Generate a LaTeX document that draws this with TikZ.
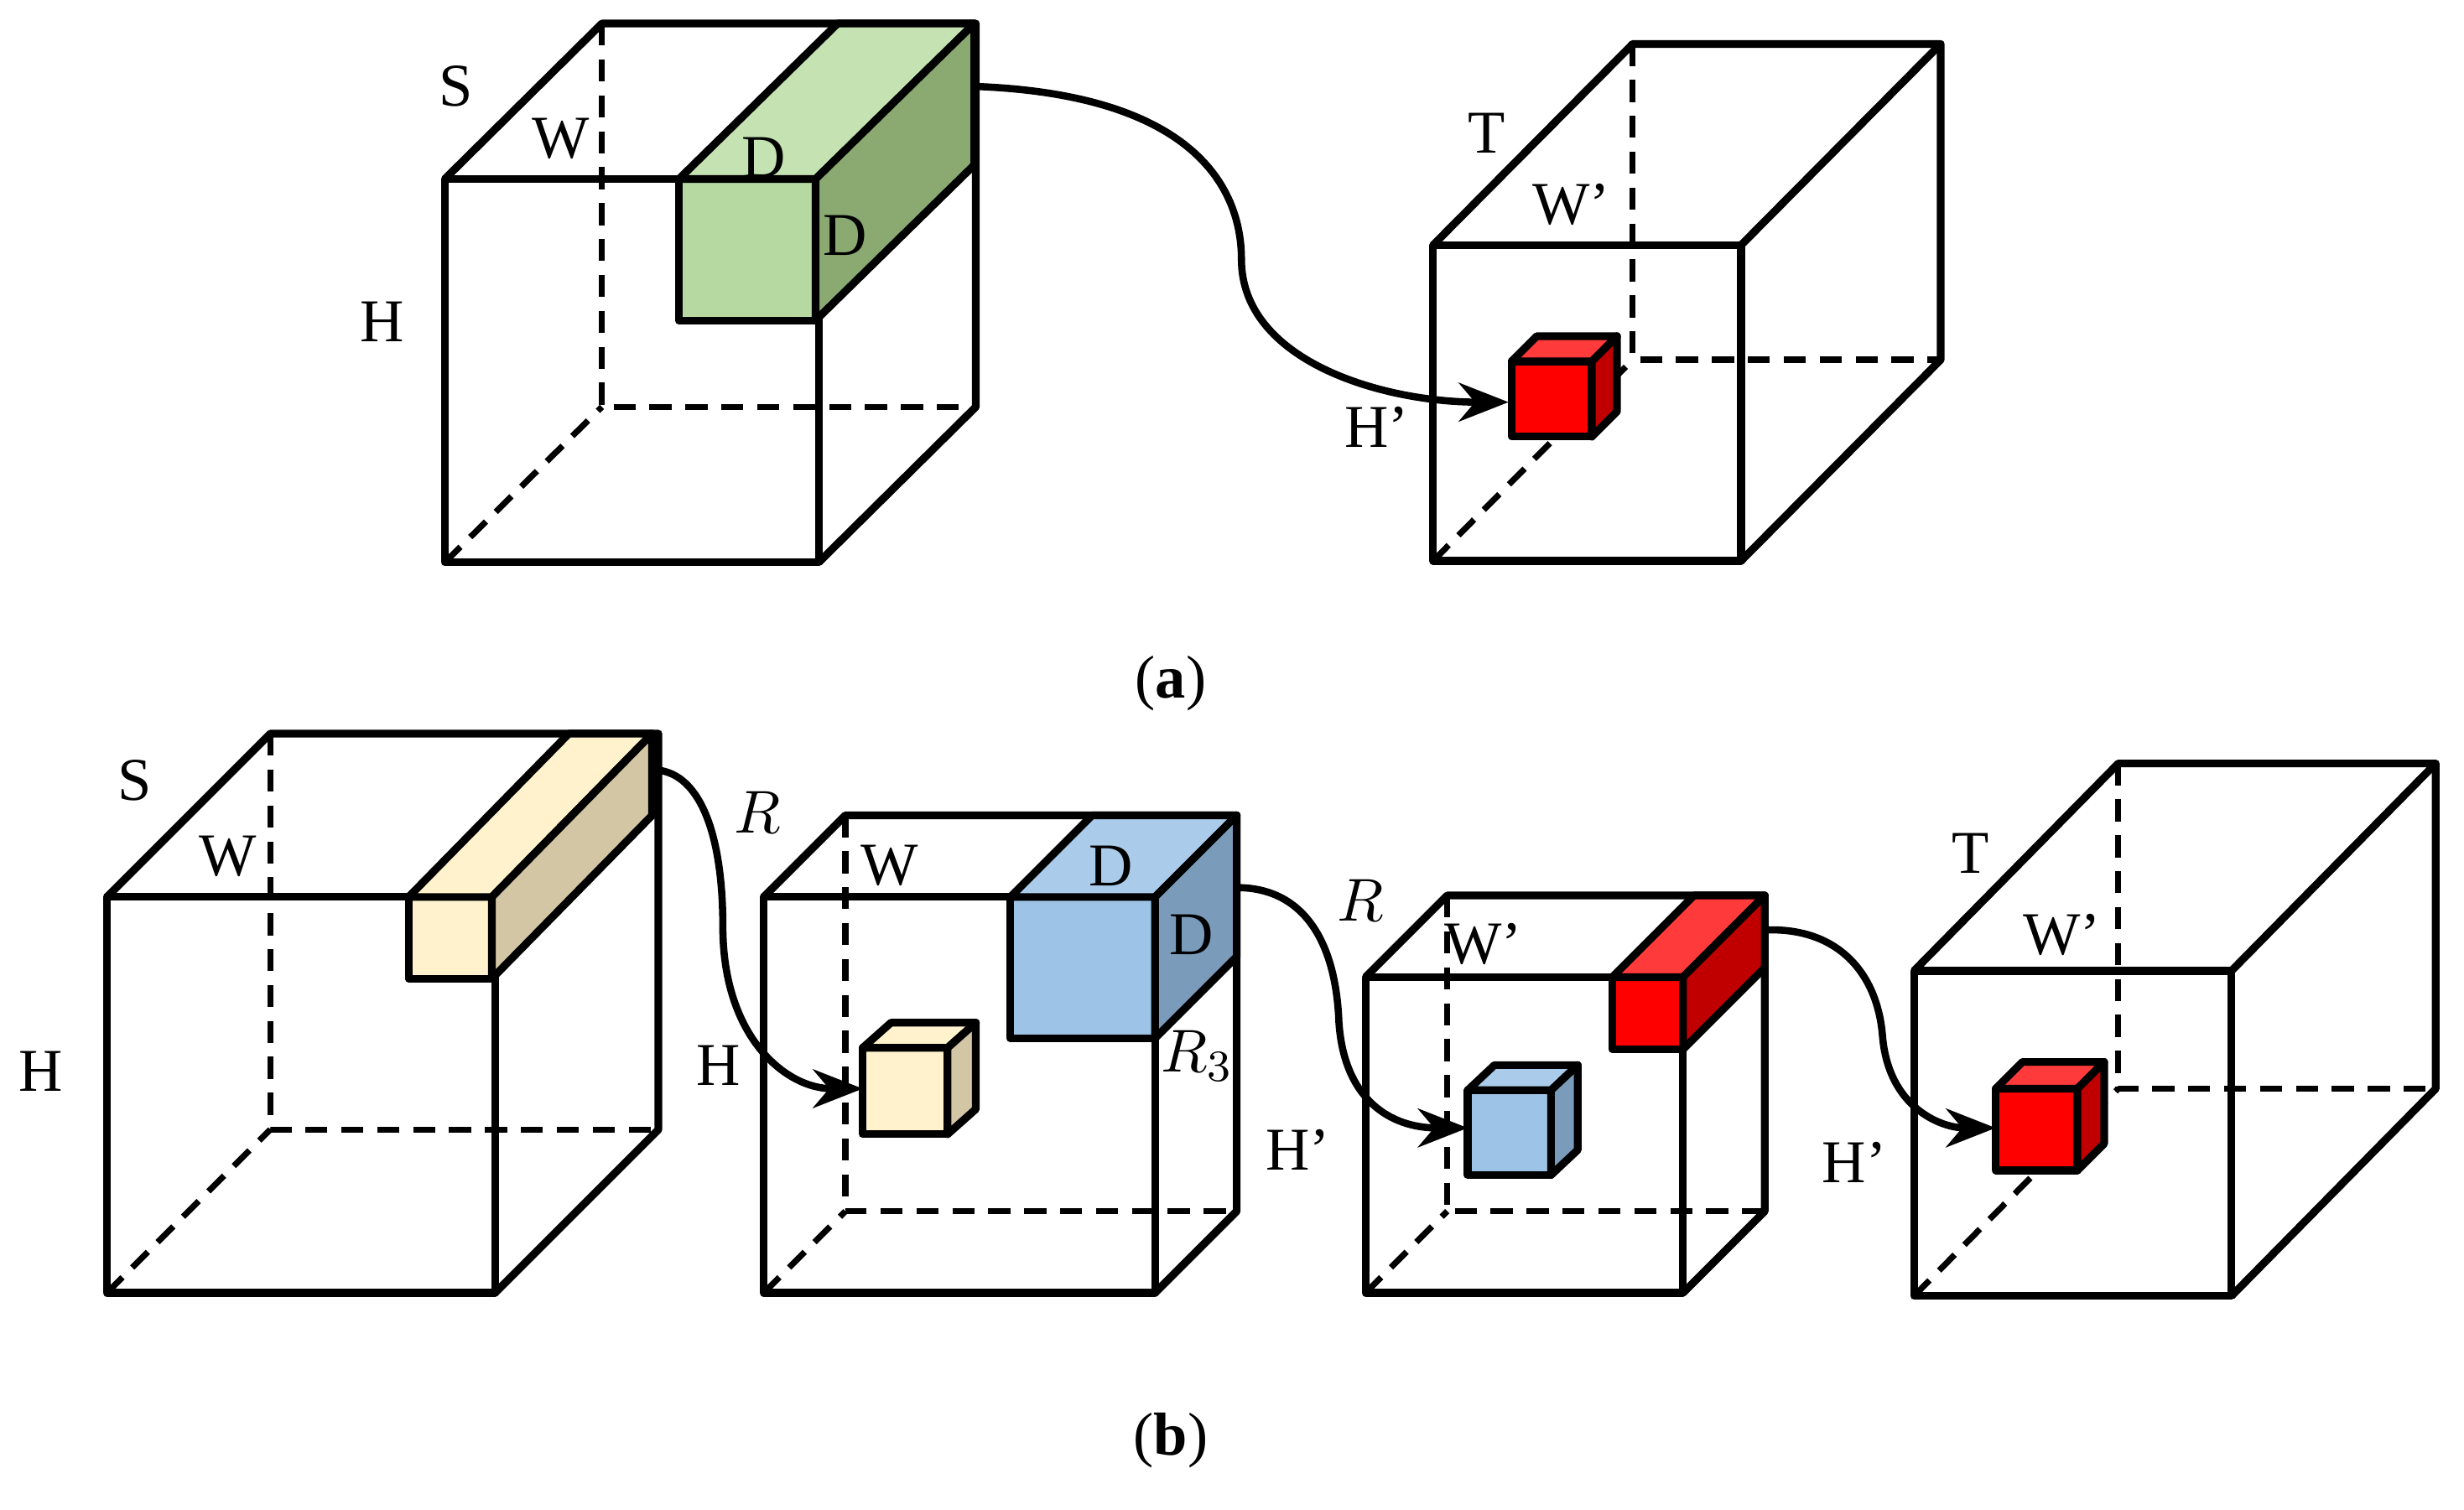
\documentclass[tikz,border=0pt]{standalone}
\usepackage{fontspec}
\setmainfont{Liberation Serif}
\usetikzlibrary{arrows.meta,calc}
\definecolor{gfront}{HTML}{B5D9A0}\definecolor{gtop}{HTML}{C4E2B2}\definecolor{gside}{HTML}{8AAA72}
\definecolor{yfront}{HTML}{FFF2CC}\definecolor{yside}{HTML}{D3C6A5}
\definecolor{bfront}{HTML}{9DC3E6}\definecolor{btop}{HTML}{AACBEA}\definecolor{bside}{HTML}{7A9BBA}
\definecolor{rfront}{HTML}{FF0000}\definecolor{rtop}{HTML}{FF3A3A}\definecolor{rside}{HTML}{C00000}
\newcommand\myframe[6]{% x1 y1 x2 y2 dx dy (y downward)
  \draw[edge] (#1,#2) rectangle (#3,#4);
  \draw[edge] (#1,#2) -- ++(#5,-#6) -- ($(#3,#2)+(#5,-#6)$) -- ($(#3,#4)+(#5,-#6)$) -- (#3,#4);
  \draw[edge] (#3,#2) -- ++(#5,-#6);
  \draw[hid] ($(#1,#2)+(#5,-#6)$) -- ($(#1,#4)+(#5,-#6)$) -- ($(#3,#4)+(#5,-#6)$);
  \draw[hid] (#1,#4) -- ++(#5,-#6);}
\newcommand\myblock[9]{% x1 y1 x2 y2 dx dy front top side
  \filldraw[edge,fill=#7] (#1,#2) rectangle (#3,#4);
  \filldraw[edge,fill=#8] (#1,#2) -- ++(#5,-#6) -- ($(#3,#2)+(#5,-#6)$) -- (#3,#2) -- cycle;
  \filldraw[edge,fill=#9] (#3,#2) -- ++(#5,-#6) -- ($(#3,#4)+(#5,-#6)$) -- (#3,#4) -- cycle;}
\begin{document}
\begin{tikzpicture}[x=0.01cm,y=-0.01cm,
  edge/.style={line width=1.4pt,line join=round},
  hid/.style={line width=1.1pt,dash pattern=on 4pt off 2.5pt},
  arr/.style={line width=1.3pt,-{Stealth[length=9pt,width=7pt]}},
  lab/.style={font=\fontsize{11}{13}\selectfont,inner sep=0pt}]
\useasboundingbox (0,0) rectangle (1568,961);
% (a)
\myframe{283}{114}{521}{358}{100}{99}
\myblock{432}{114}{519}{204}{101}{99}{gfront}{gtop}{gside}
\node[lab] at (290,55) {S};
\node[lab] at (357,88) {W};
\node[lab] at (486,100) {D};
\node[lab] at (538,150) {D};
\node[lab] at (243,205) {H};
\myframe{912}{156}{1108}{357}{127}{128}
\myblock{962}{230}{1013}{278}{16}{16}{rfront}{rtop}{rside}
\coordinate (a1) at (620,55);
\coordinate (a2) at (960,256);
\draw[arr] (a1) .. controls (760,60) and (790,120) .. (790,165) .. controls (790,230) and (880,256) .. (a2);
\node[lab] at (946,85) {T};
\node[lab] at (1000,130) {W’};
\node[lab] at (876,272) {H’};
\node[lab] at (745,435) {(\textbf{a})};
% (b)
\myframe{68}{571}{315}{823}{104}{104}
\myblock{260}{571}{313}{623}{102}{104}{yfront}{yfront}{yside}
\node[lab] at (86,497) {S};
\node[lab] at (145,545) {W};
\node[lab] at (26,682) {H};
\myframe{486}{571}{735}{823}{52}{52}
\myblock{549}{667}{603}{722}{18}{16}{yfront}{yfront}{yside}
\myblock{643}{571}{735}{661}{52}{52}{bfront}{btop}{bside}
\node[lab] at (566,551) {W};
\node[lab] at (707,551) {D};
\node[lab] at (758,595) {D};
\node[lab] at (762,672) {$R_3$};
\node[lab] at (457,678) {H};
\coordinate (b1) at (415,490);
\coordinate (b2) at (549,693);
\draw[arr] (b1) .. controls (445,490) and (460,530) .. (460,590) .. controls (460,660) and (500,693) .. (b2);
\node[lab] at (482,517) {$R$};
\myframe{869}{622}{1071}{823}{52}{52}
\myblock{934}{694}{987}{748}{17}{16}{bfront}{btop}{bside}
\myblock{1026}{622}{1071}{668}{52}{52}{rfront}{rtop}{rside}
\coordinate (c1) at (787,565);
\coordinate (c2) at (934,718);
\draw[arr] (c1) .. controls (830,565) and (850,600) .. (852,650) .. controls (855,700) and (885,718) .. (c2);
\node[lab] at (866,573) {$R$};
\node[lab] at (944,601) {W’};
\node[lab] at (826,732) {H’};
\myframe{1218}{618}{1420}{825}{130}{132}
\myblock{1270}{693}{1322}{745}{17}{17}{rfront}{rtop}{rside}
\coordinate (d1) at (1123,592);
\coordinate (d2) at (1270,718);
\draw[arr] (d1) .. controls (1170,590) and (1195,620) .. (1198,660) .. controls (1202,705) and (1235,718) .. (d2);
\node[lab] at (1254,543) {T};
\node[lab] at (1312,595) {W’};
\node[lab] at (1180,740) {H’};
\node[lab] at (745,917) {(\textbf{b})};
\end{tikzpicture}
\end{document}
